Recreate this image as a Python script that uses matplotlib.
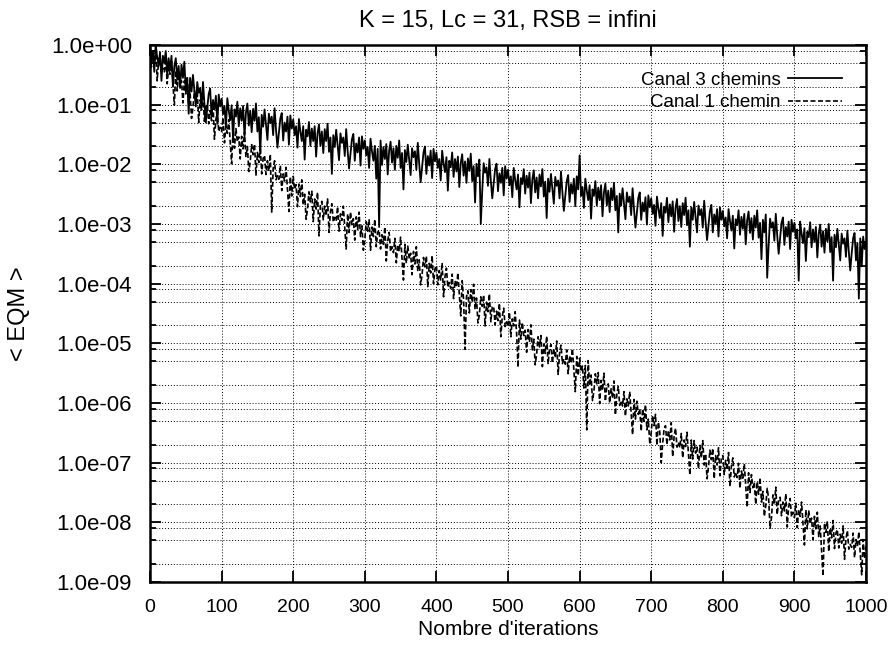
import matplotlib
matplotlib.use("Agg")
import matplotlib.pyplot as plt
import numpy as np
from matplotlib.ticker import LogLocator, FuncFormatter, MultipleLocator, NullFormatter, FixedLocator

plt.rcParams['font.family'] = ['Liberation Sans', 'DejaVu Sans']

# iterations (one sample every 2 iterations)
iterations = list(range(0, 1001, 2))

# log10(<EQM>), canal 3 chemins (solid)
log_eqm_3 = [
    -0.02, -0.25, -0.10, -0.45, 0.00, -0.20, -0.35, -0.12, -0.60, -0.18,
    -0.30, -0.10, -0.50, -0.22, -0.42, -0.18, -0.70, -0.35, -0.22, -0.58,
    -0.35, -0.72, -0.33, -0.55, -0.28, -0.78, -0.55, -1.15, -0.55, -0.78,
    -0.50, -0.76, -1.03, -0.62, -0.80, -0.72, -1.05, -0.62, -0.98, -1.30,
    -1.05, -0.82, -0.73, -1.20, -0.92, -1.08, -0.85, -1.32, -0.83, -1.03,
    -0.90, -1.16, -1.02, -1.38, -0.89, -1.10, -1.26, -1.01, -1.58, -1.08,
    -1.20, -0.95, -1.36, -1.06, -1.27, -1.02, -1.53, -1.13, -0.98, -1.35,
    -1.10, -1.46, -1.07, -1.27, -0.98, -1.45, -1.21, -1.82, -1.17, -1.37,
    -1.08, -1.34, -1.59, -1.15, -1.31, -1.20, -1.51, -1.06, -1.42, -1.72,
    -1.48, -1.23, -1.14, -1.60, -1.30, -1.45, -1.20, -1.67, -1.18, -1.40,
    -1.25, -1.51, -1.36, -1.72, -1.24, -1.45, -1.61, -1.36, -1.92, -1.42,
    -1.53, -1.29, -1.69, -1.40, -1.61, -1.36, -1.87, -1.48, -1.33, -1.69,
    -1.45, -1.81, -1.41, -1.61, -1.32, -1.79, -1.55, -2.16, -1.51, -1.71,
    -1.42, -1.68, -1.93, -1.48, -1.64, -1.55, -1.86, -1.41, -1.77, -2.07,
    -1.83, -1.58, -1.49, -1.94, -1.65, -1.80, -1.55, -2.02, -1.53, -1.74,
    -1.60, -1.85, -1.71, -2.06, -1.57, -1.78, -1.94, -1.69, -2.24, -1.74,
    -3.05, -1.60, -2.01, -1.71, -1.91, -1.66, -2.17, -1.77, -1.62, -1.97,
    -1.73, -2.09, -1.69, -1.89, -1.60, -2.06, -1.81, -2.42, -1.76, -1.96,
    -1.67, -1.93, -2.18, -1.73, -1.88, -1.78, -2.09, -1.64, -1.99, -2.30,
    -2.05, -1.80, -1.70, -2.16, -1.86, -2.02, -1.77, -2.23, -1.74, -1.95,
    -1.80, -2.06, -1.91, -2.27, -1.77, -1.98, -2.13, -1.88, -2.44, -1.94,
    -2.05, -1.80, -2.21, -1.91, -2.12, -1.87, -2.38, -1.98, -1.83, -2.19,
    -1.95, -2.31, -1.90, -2.11, -1.82, -2.28, -2.03, -2.64, -1.99, -2.20,
    -1.92, -3.00, -2.45, -1.98, -2.14, -2.05, -2.36, -1.91, -2.27, -2.57,
    -2.33, -2.08, -1.99, -2.45, -2.15, -2.31, -2.06, -2.52, -2.03, -2.24,
    -2.09, -2.35, -2.20, -2.55, -2.06, -2.26, -2.42, -2.17, -2.72, -2.23,
    -2.33, -2.08, -2.49, -2.19, -2.39, -2.14, -2.65, -2.25, -2.10, -2.47,
    -2.22, -2.57, -2.17, -2.37, -2.08, -2.54, -2.29, -2.90, -2.24, -2.46,
    -2.16, -2.41, -2.66, -2.21, -2.36, -2.27, -2.57, -2.12, -2.47, -2.78,
    -2.53, -2.28, -2.18, -2.63, -2.33, -2.49, -2.24, -2.70, -2.20, -2.42,
    -1.85, -2.53, -2.38, -2.73, -2.24, -2.44, -2.60, -2.35, -2.91, -2.42,
    -2.53, -2.28, -2.69, -2.39, -2.60, -2.35, -2.87, -2.47, -2.32, -2.69,
    -2.44, -2.80, -2.40, -2.60, -2.31, -2.77, -2.53, -3.14, -2.49, -2.69,
    -2.40, -2.66, -2.92, -2.47, -2.63, -2.54, -2.85, -2.40, -2.75, -3.06,
    -2.81, -2.56, -2.47, -2.93, -2.64, -2.79, -2.55, -3.01, -2.52, -2.72,
    -2.57, -2.83, -2.68, -3.03, -2.54, -2.74, -2.90, -2.65, -3.20, -2.71,
    -2.81, -2.56, -2.97, -2.67, -2.87, -2.62, -3.13, -2.73, -2.58, -2.95,
    -2.70, -3.05, -2.65, -2.85, -2.56, -3.02, -2.77, -3.38, -2.72, -2.93,
    -2.63, -2.89, -3.14, -2.69, -2.85, -2.75, -3.06, -2.61, -2.97, -3.27,
    -3.03, -2.78, -2.68, -3.14, -2.84, -3.00, -2.75, -3.21, -2.72, -2.93,
    -2.78, -3.04, -2.89, -3.24, -2.75, -2.95, -3.11, -2.86, -3.41, -2.92,
    -3.02, -2.77, -3.18, -2.88, -3.08, -2.83, -3.34, -2.94, -2.79, -3.15,
    -2.90, -3.26, -2.86, -3.06, -2.77, -3.23, -2.98, -3.59, -2.93, -3.14,
    -2.84, -3.90, -3.36, -2.91, -3.06, -2.97, -3.28, -2.83, -3.19, -3.50,
    -3.23, -2.98, -2.89, -3.35, -3.05, -3.21, -2.96, -3.42, -2.93, -3.13,
    -2.98, -3.24, -3.09, -3.95, -2.96, -3.16, -3.32, -3.07, -3.62, -3.13,
    -3.22, -2.97, -3.39, -3.09, -3.30, -3.05, -3.56, -3.16, -3.01, -3.38,
    -3.12, -3.48, -3.08, -3.29, -3.00, -3.47, -3.22, -3.95, -3.18, -3.39,
    -3.08, -3.35, -3.61, -3.16, -3.33, -3.24, -3.55, -3.11, -3.47, -3.78,
    -3.49, -3.24, -3.15, -3.61, -3.32, -4.25, -3.24, -3.71, -3.21, -3.42,
    -3.30,
]

# log10(<EQM>), canal 1 chemin (dashed)
log_eqm_1 = [
    -0.05, -0.37, -0.14, -0.31, -0.03, -0.60, -0.27, -0.14, -0.47, -0.39,
    -0.45, -0.22, -0.65, -0.37, -0.49, -0.27, -0.64, -1.01, -0.43, -0.77,
    -0.45, -0.67, -0.60, -0.97, -0.60, -0.82, -0.55, -0.97, -0.80, -1.23,
    -1.05, -0.77, -0.95, -0.77, -1.30, -0.92, -1.09, -0.81, -1.28, -1.03,
    -1.00, -1.32, -1.10, -1.27, -0.98, -1.58, -1.25, -1.12, -1.45, -1.38,
    -1.45, -1.22, -1.64, -1.36, -1.48, -1.25, -1.62, -1.99, -1.41, -1.73,
    -1.40, -1.62, -1.54, -1.91, -1.53, -1.74, -1.46, -1.88, -1.70, -2.12,
    -1.95, -1.67, -1.84, -1.66, -2.18, -1.80, -1.97, -1.69, -2.16, -1.90,
    -1.85, -2.17, -1.94, -2.11, -1.83, -2.80, -2.07, -1.94, -2.26, -2.19,
    -2.25, -2.02, -2.44, -2.16, -2.28, -2.05, -2.42, -2.79, -2.21, -2.53,
    -2.20, -2.42, -2.34, -2.71, -2.33, -2.54, -2.26, -2.68, -2.50, -2.92,
    -2.75, -2.46, -2.63, -2.45, -2.96, -2.58, -2.75, -2.47, -3.20, -2.68,
    -2.62, -2.93, -2.70, -2.86, -2.58, -3.14, -2.80, -2.66, -2.97, -2.89,
    -2.95, -2.71, -3.12, -2.83, -2.94, -2.70, -3.06, -3.42, -2.83, -3.14,
    -2.80, -3.01, -2.91, -3.27, -2.88, -3.09, -2.80, -3.21, -3.03, -3.44,
    -3.25, -2.96, -3.12, -2.93, -3.44, -3.05, -3.21, -2.92, -3.38, -3.14,
    -3.10, -3.42, -3.18, -3.34, -3.05, -3.62, -3.28, -3.14, -3.46, -3.38,
    -3.48, -3.24, -3.65, -3.35, -3.46, -3.22, -3.58, -3.94, -3.34, -3.66,
    -3.37, -3.58, -3.49, -3.85, -3.46, -3.67, -3.38, -3.79, -3.60, -4.02,
    -3.85, -3.56, -3.72, -3.54, -4.05, -3.66, -3.82, -3.53, -4.00, -3.75,
    -3.70, -4.02, -3.78, -3.94, -3.65, -4.22, -3.88, -3.74, -4.06, -3.98,
    -4.08, -3.84, -4.25, -3.95, -4.06, -3.82, -4.18, -4.54, -3.95, -4.27,
    -5.10, -4.22, -4.12, -4.49, -4.10, -4.31, -4.01, -4.43, -4.24, -4.66,
    -4.52, -4.22, -4.38, -4.19, -4.71, -4.31, -4.47, -4.17, -4.64, -4.39,
    -4.38, -4.69, -4.46, -4.62, -4.33, -4.89, -4.55, -4.41, -4.72, -4.64,
    -4.72, -4.48, -4.89, -4.59, -4.71, -4.47, -4.83, -5.40, -4.61, -4.93,
    -4.65, -4.87, -4.78, -5.15, -4.77, -4.98, -4.69, -5.11, -4.93, -5.36,
    -5.18, -4.89, -5.06, -4.87, -5.39, -5.01, -5.17, -4.88, -5.35, -5.09,
    -5.02, -5.33, -5.09, -5.24, -4.96, -5.52, -5.17, -5.03, -5.34, -5.26,
    -5.35, -5.11, -5.51, -5.21, -5.33, -5.09, -5.45, -5.81, -5.22, -5.54,
    -5.25, -5.47, -5.38, -5.75, -5.37, -6.45, -5.29, -5.71, -5.53, -5.96,
    -5.80, -5.51, -5.68, -5.49, -6.01, -5.62, -5.79, -5.50, -5.97, -5.72,
    -5.68, -6.00, -5.76, -5.92, -5.63, -6.20, -5.86, -5.72, -6.04, -5.96,
    -6.05, -5.81, -6.22, -5.93, -6.05, -5.81, -6.17, -6.53, -5.94, -6.27,
    -5.97, -6.19, -6.10, -6.47, -6.10, -6.31, -6.03, -6.45, -6.27, -6.69,
    -6.50, -6.21, -6.38, -6.19, -6.71, -6.32, -6.49, -7.00, -6.68, -6.43,
    -6.38, -6.70, -6.46, -6.62, -6.33, -6.90, -6.56, -6.42, -6.74, -6.66,
    -6.75, -6.51, -6.92, -6.62, -6.73, -6.49, -6.85, -7.21, -6.62, -6.94,
    -6.63, -6.84, -6.74, -7.10, -6.71, -6.92, -6.63, -7.04, -6.85, -7.27,
    -7.08, -6.79, -6.95, -6.76, -7.27, -6.88, -7.04, -6.75, -7.22, -6.93,
    -6.88, -7.20, -6.96, -7.12, -6.83, -7.40, -7.06, -6.92, -7.24, -7.16,
    -7.25, -7.01, -7.43, -7.14, -7.26, -7.02, -7.39, -7.75, -7.17, -7.50,
    -7.20, -7.42, -7.33, -7.70, -7.32, -7.53, -7.25, -7.66, -7.48, -7.90,
    -7.72, -7.43, -7.60, -8.10, -7.92, -7.54, -7.70, -7.41, -7.87, -7.62,
    -7.58, -7.89, -7.66, -7.81, -7.52, -8.08, -7.74, -7.60, -7.91, -7.83,
    -7.92, -7.68, -8.09, -7.79, -7.90, -7.66, -8.02, -8.38, -7.79, -8.11,
    -7.80, -8.02, -7.93, -8.29, -7.90, -8.11, -7.83, -8.24, -8.06, -8.48,
    -8.90, -8.01, -8.17, -7.98, -8.49, -8.10, -8.26, -7.97, -8.44, -8.18,
    -8.12, -8.43, -8.20, -8.35, -8.06, -8.62, -8.28, -8.14, -8.45, -8.37,
    -8.42, -8.18, -8.59, -8.29, -8.40, -8.16, -8.52, -8.88, -8.29, -8.61,
    -8.40,
]

# decade ticks shown on the y axis
y_decades = [1e-9, 1e-8, 1e-7, 1e-6, 1e-5, 1e-4, 1e-3, 1e-2, 1e-1, 1e0]

eqm_3 = 10.0 ** np.array(log_eqm_3)
eqm_1 = 10.0 ** np.array(log_eqm_1)

fig = plt.figure(figsize=(8.95, 6.46), dpi=100)
ax = fig.add_axes([0.1676, 0.0991, 0.8000, 0.8312])

ax.plot(iterations, eqm_3, color="black", lw=1.3, label="Canal 3 chemins")
ax.plot(iterations, eqm_1, color="black", lw=1.2, linestyle=(0, (3, 1.5)),
        label="Canal 1 chemin")

ax.set_yscale("log")
ax.set_xlim(0, 1000)
ax.set_ylim(1e-9, 1.0)

ax.xaxis.set_major_locator(MultipleLocator(100))
ax.yaxis.set_major_locator(FixedLocator(y_decades))
ax.yaxis.set_minor_locator(LogLocator(base=10, subs=[2, 5, 8], numticks=20))
ax.yaxis.set_major_formatter(FuncFormatter(lambda v, p: "%.1e" % v))
ax.yaxis.set_minor_formatter(NullFormatter())

# gnuplot-like grid: dotted, on majors and minors
ax.grid(True, which="major", color="black", linestyle=(0, (1, 2)), lw=0.7)
ax.grid(True, which="minor", axis="y", color="black", linestyle=(0, (1, 2)), lw=0.7)

ax.tick_params(which="both", direction="in", top=True, right=True, width=1.3)
ax.tick_params(which="major", length=8)
ax.tick_params(which="minor", length=4)
ax.tick_params(axis="x", labelsize=14, pad=12)
ax.tick_params(axis="y", labelsize=16, pad=13)
for s in ax.spines.values():
    s.set_linewidth(1.8)

ax.set_title("K = 15, Lc = 31, RSB = infini", fontsize=17, pad=13)
ax.set_xlabel("Nombre d'iterations", fontsize=15, labelpad=3)
ax.set_ylabel("< EQM >", fontsize=17, labelpad=15)

ax.legend(loc="upper right", bbox_to_anchor=(0.985, 0.975), frameon=False,
          markerfirst=False, fontsize=13.5, handlelength=2.9, handletextpad=0.4,
          labelspacing=0.3, borderpad=0.2)

fig.savefig("out.png", dpi=100)
